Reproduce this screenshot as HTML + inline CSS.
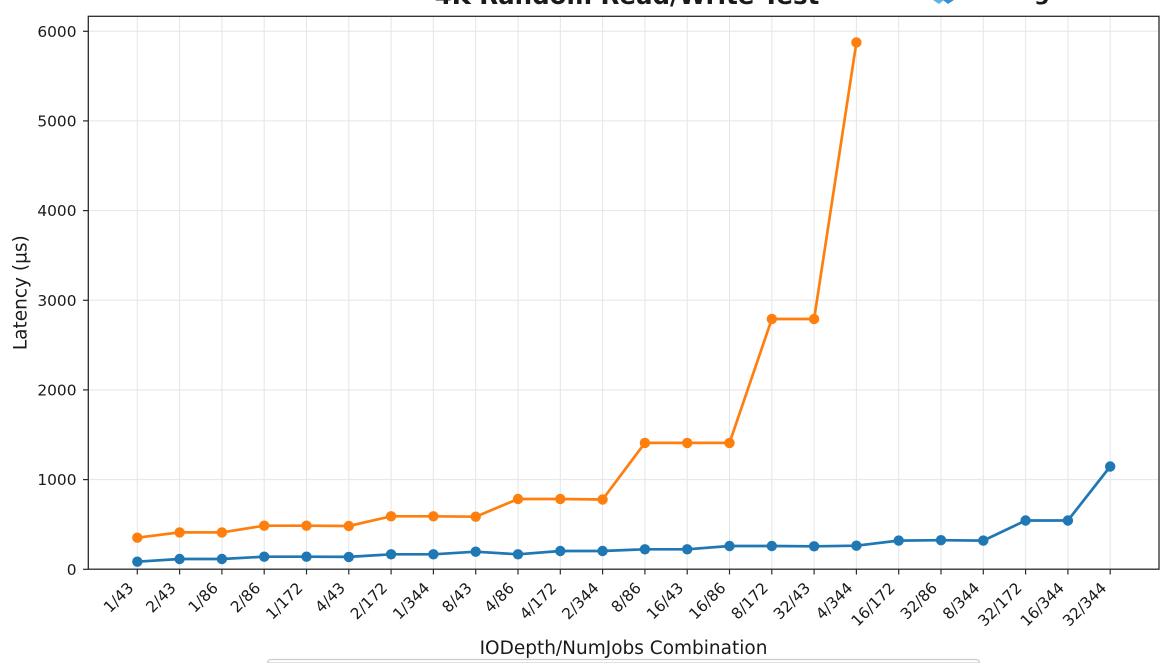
<!DOCTYPE html>
<html>
<head>
<meta charset="utf-8">
<style>
  html, body { margin: 0; padding: 0; background: #ffffff; width: 1170px; height: 663px; overflow: hidden; }
  svg { display: block; overflow: hidden; }
  text { font-family: "DejaVu Sans", "Liberation Sans", sans-serif; fill: #1a1a1a; }
</style>
</head>
<body>
<svg width="1170" height="663" viewBox="0 0 1170 663" xmlns="http://www.w3.org/2000/svg">
  <rect x="0" y="0" width="1170" height="663" fill="#ffffff"/>

  <!-- Title (cut off at top) -->
  <text x="627" y="4" font-size="24.5" font-weight="bold" text-anchor="middle" fill="#1c1c1c">4K Random Read/Write Test</text>
  <!-- logo fragment -->
  <path d="M933,0 L944,0 L939,4 Z" fill="#5fb2ea"/>
  <path d="M943,0 L954,0 L948,4 Z" fill="#2f8fd8"/>
  <text x="1034" y="0" font-size="22" font-weight="bold" fill="#1f2d3d">g</text>

  <!-- Grid -->
  <g stroke="#e3e5e8" stroke-width="1">
    <line x1="88" y1="479.6" x2="1159" y2="479.6"/>
    <line x1="88" y1="389.9" x2="1159" y2="389.9"/>
    <line x1="88" y1="300.3" x2="1159" y2="300.3"/>
    <line x1="88" y1="210.6" x2="1159" y2="210.6"/>
    <line x1="88" y1="120.9" x2="1159" y2="120.9"/>
    <line x1="88" y1="31.3" x2="1159" y2="31.3"/>
    <line x1="137.3" y1="16" x2="137.3" y2="569"/>
    <line x1="179.6" y1="16" x2="179.6" y2="569"/>
    <line x1="221.9" y1="16" x2="221.9" y2="569"/>
    <line x1="264.2" y1="16" x2="264.2" y2="569"/>
    <line x1="306.5" y1="16" x2="306.5" y2="569"/>
    <line x1="348.8" y1="16" x2="348.8" y2="569"/>
    <line x1="391.1" y1="16" x2="391.1" y2="569"/>
    <line x1="433.4" y1="16" x2="433.4" y2="569"/>
    <line x1="475.7" y1="16" x2="475.7" y2="569"/>
    <line x1="518.0" y1="16" x2="518.0" y2="569"/>
    <line x1="560.3" y1="16" x2="560.3" y2="569"/>
    <line x1="602.6" y1="16" x2="602.6" y2="569"/>
    <line x1="644.9" y1="16" x2="644.9" y2="569"/>
    <line x1="687.2" y1="16" x2="687.2" y2="569"/>
    <line x1="729.5" y1="16" x2="729.5" y2="569"/>
    <line x1="771.8" y1="16" x2="771.8" y2="569"/>
    <line x1="814.1" y1="16" x2="814.1" y2="569"/>
    <line x1="856.4" y1="16" x2="856.4" y2="569"/>
    <line x1="898.7" y1="16" x2="898.7" y2="569"/>
    <line x1="941.0" y1="16" x2="941.0" y2="569"/>
    <line x1="983.3" y1="16" x2="983.3" y2="569"/>
    <line x1="1025.6" y1="16" x2="1025.6" y2="569"/>
    <line x1="1067.9" y1="16" x2="1067.9" y2="569"/>
    <line x1="1110.2" y1="16" x2="1110.2" y2="569"/>
  </g>

  <!-- Blue series -->
  <polyline fill="none" stroke="#1f77b4" stroke-width="2.7" stroke-linejoin="round"
    points="137.3,561.7 179.6,559.0 221.9,559.0 264.2,556.7 306.5,556.7 348.8,556.9 391.1,554.3 433.4,554.3 475.7,551.7 518.0,554.3 560.3,551.0 602.6,551.0 644.9,549.3 687.2,549.3 729.5,546.0 771.8,546.0 814.1,546.3 856.4,545.7 898.7,540.6 941.0,540.2 983.3,540.6 1025.6,520.5 1067.9,520.5 1110.2,466.5"/>
  <g fill="#1f77b4">
    <circle cx="137.3" cy="561.7" r="5.2"/>
    <circle cx="179.6" cy="559.0" r="5.2"/>
    <circle cx="221.9" cy="559.0" r="5.2"/>
    <circle cx="264.2" cy="556.7" r="5.2"/>
    <circle cx="306.5" cy="556.7" r="5.2"/>
    <circle cx="348.8" cy="556.9" r="5.2"/>
    <circle cx="391.1" cy="554.3" r="5.2"/>
    <circle cx="433.4" cy="554.3" r="5.2"/>
    <circle cx="475.7" cy="551.7" r="5.2"/>
    <circle cx="518.0" cy="554.3" r="5.2"/>
    <circle cx="560.3" cy="551.0" r="5.2"/>
    <circle cx="602.6" cy="551.0" r="5.2"/>
    <circle cx="644.9" cy="549.3" r="5.2"/>
    <circle cx="687.2" cy="549.3" r="5.2"/>
    <circle cx="729.5" cy="546.0" r="5.2"/>
    <circle cx="771.8" cy="546.0" r="5.2"/>
    <circle cx="814.1" cy="546.3" r="5.2"/>
    <circle cx="856.4" cy="545.7" r="5.2"/>
    <circle cx="898.7" cy="540.6" r="5.2"/>
    <circle cx="941.0" cy="540.2" r="5.2"/>
    <circle cx="983.3" cy="540.6" r="5.2"/>
    <circle cx="1025.6" cy="520.5" r="5.2"/>
    <circle cx="1067.9" cy="520.5" r="5.2"/>
    <circle cx="1110.2" cy="466.5" r="5.2"/>
  </g>

  <!-- Orange series -->
  <polyline fill="none" stroke="#ff7f0e" stroke-width="2.7" stroke-linejoin="round"
    points="137.3,537.7 179.6,532.4 221.9,532.4 264.2,525.7 306.5,525.7 348.8,526.0 391.1,516.3 433.4,516.3 475.7,516.7 518.0,499.0 560.3,499.0 602.6,499.5 644.9,442.9 687.2,442.9 729.5,442.9 771.8,319.0 814.1,319.0 856.4,42.4"/>
  <g fill="#ff7f0e">
    <circle cx="137.3" cy="537.7" r="5.2"/>
    <circle cx="179.6" cy="532.4" r="5.2"/>
    <circle cx="221.9" cy="532.4" r="5.2"/>
    <circle cx="264.2" cy="525.7" r="5.2"/>
    <circle cx="306.5" cy="525.7" r="5.2"/>
    <circle cx="348.8" cy="526.0" r="5.2"/>
    <circle cx="391.1" cy="516.3" r="5.2"/>
    <circle cx="433.4" cy="516.3" r="5.2"/>
    <circle cx="475.7" cy="516.7" r="5.2"/>
    <circle cx="518.0" cy="499.0" r="5.2"/>
    <circle cx="560.3" cy="499.0" r="5.2"/>
    <circle cx="602.6" cy="499.5" r="5.2"/>
    <circle cx="644.9" cy="442.9" r="5.2"/>
    <circle cx="687.2" cy="442.9" r="5.2"/>
    <circle cx="729.5" cy="442.9" r="5.2"/>
    <circle cx="771.8" cy="319.0" r="5.2"/>
    <circle cx="814.1" cy="319.0" r="5.2"/>
    <circle cx="856.4" cy="42.4" r="5.2"/>
  </g>

  <!-- Axes frame -->
  <rect x="88.3" y="16.3" width="1070.7" height="552.9" fill="none" stroke="#2b2b2b" stroke-width="1.3"/>

  <!-- Y ticks -->
  <g stroke="#2b2b2b" stroke-width="1.2">
    <line x1="83" y1="569.3" x2="88" y2="569.3"/>
    <line x1="83" y1="479.6" x2="88" y2="479.6"/>
    <line x1="83" y1="389.9" x2="88" y2="389.9"/>
    <line x1="83" y1="300.3" x2="88" y2="300.3"/>
    <line x1="83" y1="210.6" x2="88" y2="210.6"/>
    <line x1="83" y1="120.9" x2="88" y2="120.9"/>
    <line x1="83" y1="31.3" x2="88" y2="31.3"/>
  </g>
  <g font-size="15.4" text-anchor="end">
    <text x="76.5" y="574.9">0</text>
    <text x="76.5" y="485.2">1000</text>
    <text x="76.5" y="395.5">2000</text>
    <text x="76.5" y="305.9">3000</text>
    <text x="76.5" y="216.2">4000</text>
    <text x="76.5" y="126.5">5000</text>
    <text x="76.5" y="36.9">6000</text>
  </g>

  <!-- X ticks -->
  <g stroke="#2b2b2b" stroke-width="1.2">
    <line x1="137.3" y1="569" x2="137.3" y2="574.5"/>
    <line x1="179.6" y1="569" x2="179.6" y2="574.5"/>
    <line x1="221.9" y1="569" x2="221.9" y2="574.5"/>
    <line x1="264.2" y1="569" x2="264.2" y2="574.5"/>
    <line x1="306.5" y1="569" x2="306.5" y2="574.5"/>
    <line x1="348.8" y1="569" x2="348.8" y2="574.5"/>
    <line x1="391.1" y1="569" x2="391.1" y2="574.5"/>
    <line x1="433.4" y1="569" x2="433.4" y2="574.5"/>
    <line x1="475.7" y1="569" x2="475.7" y2="574.5"/>
    <line x1="518.0" y1="569" x2="518.0" y2="574.5"/>
    <line x1="560.3" y1="569" x2="560.3" y2="574.5"/>
    <line x1="602.6" y1="569" x2="602.6" y2="574.5"/>
    <line x1="644.9" y1="569" x2="644.9" y2="574.5"/>
    <line x1="687.2" y1="569" x2="687.2" y2="574.5"/>
    <line x1="729.5" y1="569" x2="729.5" y2="574.5"/>
    <line x1="771.8" y1="569" x2="771.8" y2="574.5"/>
    <line x1="814.1" y1="569" x2="814.1" y2="574.5"/>
    <line x1="856.4" y1="569" x2="856.4" y2="574.5"/>
    <line x1="898.7" y1="569" x2="898.7" y2="574.5"/>
    <line x1="941.0" y1="569" x2="941.0" y2="574.5"/>
    <line x1="983.3" y1="569" x2="983.3" y2="574.5"/>
    <line x1="1025.6" y1="569" x2="1025.6" y2="574.5"/>
    <line x1="1067.9" y1="569" x2="1067.9" y2="574.5"/>
    <line x1="1110.2" y1="569" x2="1110.2" y2="574.5"/>
  </g>
  <g font-size="15.4" text-anchor="end">
    <text transform="translate(134.5,589) rotate(-45)">1/43</text>
    <text transform="translate(176.8,589) rotate(-45)">2/43</text>
    <text transform="translate(219.1,589) rotate(-45)">1/86</text>
    <text transform="translate(261.4,589) rotate(-45)">2/86</text>
    <text transform="translate(303.7,589) rotate(-45)">1/172</text>
    <text transform="translate(346.0,589) rotate(-45)">4/43</text>
    <text transform="translate(388.3,589) rotate(-45)">2/172</text>
    <text transform="translate(430.6,589) rotate(-45)">1/344</text>
    <text transform="translate(472.9,589) rotate(-45)">8/43</text>
    <text transform="translate(515.2,589) rotate(-45)">4/86</text>
    <text transform="translate(557.5,589) rotate(-45)">4/172</text>
    <text transform="translate(599.8,589) rotate(-45)">2/344</text>
    <text transform="translate(642.1,589) rotate(-45)">8/86</text>
    <text transform="translate(684.4,589) rotate(-45)">16/43</text>
    <text transform="translate(726.7,589) rotate(-45)">16/86</text>
    <text transform="translate(769.0,589) rotate(-45)">8/172</text>
    <text transform="translate(811.3,589) rotate(-45)">32/43</text>
    <text transform="translate(853.6,589) rotate(-45)">4/344</text>
    <text transform="translate(895.9,589) rotate(-45)">16/172</text>
    <text transform="translate(938.2,589) rotate(-45)">32/86</text>
    <text transform="translate(980.5,589) rotate(-45)">8/344</text>
    <text transform="translate(1022.8,589) rotate(-45)">32/172</text>
    <text transform="translate(1065.1,589) rotate(-45)">16/344</text>
    <text transform="translate(1107.4,589) rotate(-45)">32/344</text>
  </g>

  <!-- Axis labels -->
  <text x="623.5" y="654" font-size="18.5" text-anchor="middle">IODepth/NumJobs Combination</text>
  <text transform="translate(26.7,292.7) rotate(-90)" font-size="18.5" text-anchor="middle">Latency (µs)</text>

  <!-- Legend frame top edge (rest is off-canvas) -->
  <path d="M267.5,663 Q267.5,659.5 271.5,659.5 L975.5,659.5 Q979.5,659.5 979.5,663 Z" fill="#ffffff" stroke="#cccccc" stroke-width="1.2"/>
</svg>
</body>
</html>
